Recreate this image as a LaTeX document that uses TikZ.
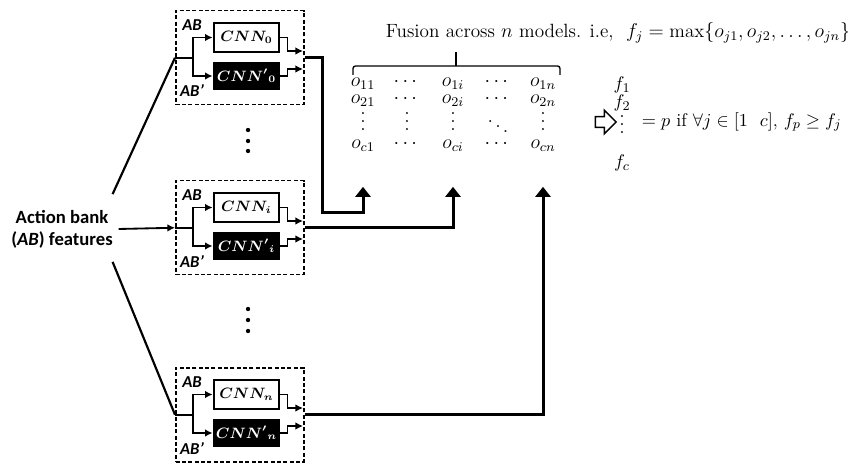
\documentclass[tikz,border=0pt]{standalone}
\usepackage{amsmath}
\usepackage{amssymb}
\usepackage{fontspec}
\newfontfamily\labelfont{Carlito}
\usetikzlibrary{arrows.meta,positioning,shapes.arrows}
% compact vertical dots (no top kern)
\newcommand{\vdts}{\vbox{\baselineskip=0.4em \lineskiplimit=0pt \hbox{.}\hbox{.}\hbox{.}}}
\tikzset{%
  >={Latex[width=1.6mm,length=1.6mm]},
  % Specifications for style of nodes:
     dashframe/.style = {draw, line width=0.9pt, dash pattern=on 2.4pt off 1.4pt,
                         minimum width=76.8pt, minimum height=56.4pt, inner sep=0pt},
           net/.style = {draw, line width=1.7pt, minimum width=39pt, inner sep=0pt,
                         font=\fontsize{9}{10}\selectfont\boldmath},
          netW/.style = {net, fill=white, minimum height=17.4pt},
          netB/.style = {net, fill=black, text=white, minimum height=15.6pt},
       ablabel/.style = {font=\labelfont\bfseries\itshape, inner sep=0pt},
           ent/.style = {anchor=base, inner sep=0pt, font=\fontsize{12}{14}\selectfont},
           vdt/.style = {inner sep=0pt, font=\fontsize{12}{14}\selectfont},
          fent/.style = {inner sep=0pt, font=\fontsize{11}{13}\selectfont},
  % Specifications for style of lines:
          wire/.style = {line width=1pt},
          feed/.style = {line width=1.8pt, -{Triangle[width=9pt,length=6pt]},
                         shorten >=20.7pt},
                       }
\begin{document}
\begin{tikzpicture}[x=0.6pt, y=-0.6pt]
  \useasboundingbox (0,0) rectangle (848,464);

  % Three CNN pairs (AB and AB')
  \foreach \k/\Y in {0/10, i/180, n/367} {
    \node (frame\k) [dashframe, anchor=north west] at (175,\Y) {};
    \node (cnn\k)  [netW] at (246.5,\Y+27.5) {$CNN_{\k}$};
    \node (cnnp\k) [netB] at (246.5,\Y+66)   {$CNN'{}_{\k}$};
    \node (ab\k)   [ablabel] at (192,\Y+15) {AB};
    \node (abp\k)  [ablabel] at (192,\Y+81) {AB’};
    \coordinate (mu\k) at (303,\Y+41);
    \coordinate (ml\k) at (303,\Y+59);
    \draw[wire]    (frame\k.west) -- ++(18,0) coordinate (br\k);
    \draw[wire,->] (br\k) |- (cnn\k.west);
    \draw[wire,->] (br\k) |- (cnnp\k.west);
    \draw[wire,->] (cnn\k.east) -- ++(7,0) |- (mu\k);
    \draw[wire,->] (cnnp\k.east) -- ++(7,0) |- (ml\k);
  }

  % vertical dots between the pairs
  \foreach \y in {130,141,151,309,320,331}
    \fill (248,\y) circle (1.3pt);

  % Input features
  \node (bank) [font=\labelfont\bfseries\fontsize{11.2}{13.2}\selectfont, align=center]
        at (62,229) {Action bank\\(\textit{AB}) features};
  \draw[wire, line width=1.3pt] (bank.north east) ++(-6,-10) -- (frame0.west);
  \draw[wire, line width=1.1pt, ->] (bank.east) -- (framei.west);
  \draw[wire, line width=1.3pt] (bank.south east) ++(-6,8) -- (framen.west);

  % Score matrix (rows placed on their baselines)
  \node (o11) [ent] at (363,87)  {$o_{11}$};
  \node (h11) [ent] at (407,87)  {$\cdots$};
  \node (o1i) [ent] at (453,87)  {$o_{1i}$};
  \node (h12) [ent] at (498,87)  {$\cdots$};
  \node (o1n) [ent] at (543,87)  {$o_{1n}$};
  \node (o21) [ent] at (363,104) {$o_{21}$};
  \node (h21) [ent] at (407,104) {$\cdots$};
  \node (o2i) [ent] at (453,104) {$o_{2i}$};
  \node (h22) [ent] at (498,104) {$\cdots$};
  \node (o2n) [ent] at (543,104) {$o_{2n}$};
  \foreach \x/\n in {363/1,407/2,453/3,543/5}
    \node (v\n) [vdt] at (\x,122) {\vdts};
  \node (dd)  [vdt] at (498,122) {$\ddots$};
  \node (oc1) [ent] at (363,149) {$o_{c1}$};
  \node (hc1) [ent] at (407,149) {$\cdots$};
  \node (oci) [ent] at (453,149) {$o_{ci}$};
  \node (hc2) [ent] at (498,149) {$\cdots$};
  \node (ocn) [ent] at (543,149) {$o_{cn}$};

  % Fusion label and bracket
  \node (title) [font=\fontsize{11.5}{13.5}\selectfont] at (618,33)
        {Fusion across $n$ models. i.e, \ $f_j = \max\{o_{j1}, o_{j2}, \ldots, o_{jn}\}$};
  \draw[line width=0.8pt, rounded corners=1.5pt] (353,75) -- (353,66) -- (560,66) -- (560,75);
  \draw[line width=0.8pt] (456,66) -- (456,52);

  % Decision
  \node (impl) [single arrow, draw, line width=0.9pt, inner sep=2.8pt,
        single arrow head extend=3.8pt, minimum height=12.5pt] at (603,122) {};
  \node (f1) [fent] at (622,85)  {$f_1$};
  \node (f2) [fent] at (622,103) {$f_2$};
  \node (fv) [vdt]  at (622,125) {\vdts};
  \node (fc) [fent] at (622,163) {$f_c$};
  \node (cond) [anchor=west, font=\fontsize{11}{13}\selectfont] at (636,122)
        {$= p$ if $\forall j \in [1~~c]$, $f_p \geq f_j$};

  % Outputs of the pairs into the matrix
  \coordinate (bend0) at (322,213);
  \draw[feed] (frame0.east) -| (bend0) -| (oc1.south);
  \draw[feed] (framei.east) -| (oci.south);
  \draw[feed] (framen.east) -| (ocn.south);
\end{tikzpicture}
\end{document}
